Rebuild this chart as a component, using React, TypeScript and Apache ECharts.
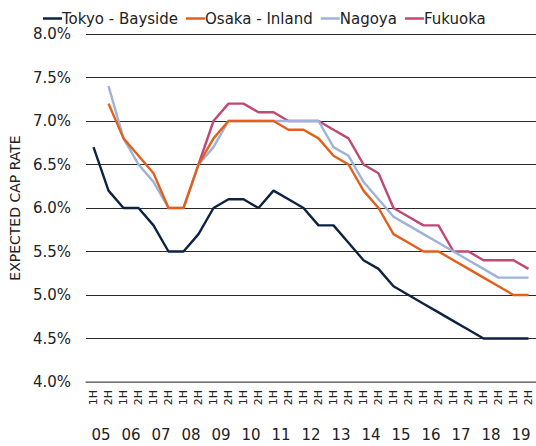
import React, { useEffect, useRef } from "react";
import * as echarts from "echarts";

const halves = [
  "1H","2H","1H","2H","1H","2H","1H","2H","1H","2H",
  "1H","2H","1H","2H","1H","2H","1H","2H","1H","2H",
  "1H","2H","1H","2H","1H","2H","1H","2H","1H","2H",
];
const years = ["05","06","07","08","09","10","11","12","13","14","15","16","17","18","19"];

const tokyo = [6.7, 6.2, 6.0, 6.0, 5.8, 5.5, 5.5, 5.7, 6.0, 6.1, 6.1, 6.0, 6.2, 6.1, 6.0, 5.8, 5.8, 5.6, 5.4, 5.3, 5.1, 5.0, 4.9, 4.8, 4.7, 4.6, 4.5, 4.5, 4.5, 4.5];
const osaka = [null, 7.2, 6.8, 6.6, 6.4, 6.0, 6.0, 6.5, 6.8, 7.0, 7.0, 7.0, 7.0, 6.9, 6.9, 6.8, 6.6, 6.5, 6.2, 6.0, 5.7, 5.6, 5.5, 5.5, 5.4, 5.3, 5.2, 5.1, 5.0, 5.0];
const nagoya = [null, 7.4, 6.8, 6.5, 6.3, 6.0, 6.0, 6.5, 6.7, 7.0, 7.0, 7.0, 7.0, 7.0, 7.0, 7.0, 6.7, 6.6, 6.3, 6.1, 5.9, 5.8, 5.7, 5.6, 5.5, 5.4, 5.3, 5.2, 5.2, 5.2];
const fukuoka = [null, null, null, null, null, null, null, 6.5, 7.0, 7.2, 7.2, 7.1, 7.1, 7.0, 7.0, 7.0, 6.9, 6.8, 6.5, 6.4, 6.0, 5.9, 5.8, 5.8, 5.5, 5.5, 5.4, 5.4, 5.4, 5.3];

const seriesNames = ["Tokyo - Bayside", "Osaka - Inland", "Nagoya", "Fukuoka"];
const seriesData = [tokyo, osaka, nagoya, fukuoka];
const colors = ["#0e2344", "#e2601c", "#9db3d9", "#c04874"];

const FONT = "'DejaVu Sans', sans-serif";

export default function App() {
  const ref = useRef<HTMLDivElement>(null);
  useEffect(() => {
    if (!ref.current) return;
    const chart = echarts.init(ref.current, null, { renderer: "svg" });
    chart.setOption({
      animation: false,
      color: colors,
      textStyle: { fontFamily: FONT },
      legend: {
        top: 6,
        left: 38,
        itemGap: 8,
        itemWidth: 19,
        itemHeight: 2.5,
        icon: "rect",
        textStyle: { fontSize: 15, color: "#222", fontFamily: FONT, padding: [0, 0, 0, -5] },
        data: seriesNames,
      },
      grid: { left: 83, right: 0, top: 34, bottom: 64, containLabel: false },
      xAxis: [
        {
          type: "category",
          data: halves,
          boundaryGap: true,
          axisLine: { show: true, lineStyle: { color: "#8a8a8a", width: 1.5 } },
          axisTick: { show: false },
          axisLabel: { interval: 0, rotate: 90, fontSize: 11, color: "#222", margin: 8, fontFamily: FONT },
        },
        {
          type: "category",
          data: years,
          position: "bottom",
          offset: 37,
          boundaryGap: true,
          axisLine: { show: false },
          axisTick: { show: false },
          axisLabel: { interval: 0, fontSize: 15, color: "#222", margin: 8, fontFamily: FONT },
        },
      ],
      yAxis: {
        type: "value",
        min: 4.0,
        max: 8.0,
        interval: 0.5,
        name: "EXPECTED CAP RATE",
        nameLocation: "middle",
        nameGap: 58,
        nameTextStyle: { fontSize: 14, color: "#222", fontFamily: FONT },
        axisLine: { show: false },
        axisTick: { show: false },
        axisLabel: {
          fontSize: 15,
          color: "#222",
          margin: 15,
          fontFamily: FONT,
          formatter: (v: number) => v.toFixed(1) + "%",
        },
        splitLine: { show: true, lineStyle: { color: "#2a2a2a", width: 1 } },
      },
      series: seriesData.map((d, i) => ({
        name: seriesNames[i],
        type: "line",
        data: d,
        xAxisIndex: 0,
        symbol: "none",
        lineStyle: { width: 2.4, color: colors[i] },
        itemStyle: { color: colors[i] },
        z: 10 - i,
      })),
    });
    return () => chart.dispose();
  }, []);
  return <div ref={ref} style={{ width: 536, height: 446, position: "absolute", left: 0, top: 0 }} />;
}
